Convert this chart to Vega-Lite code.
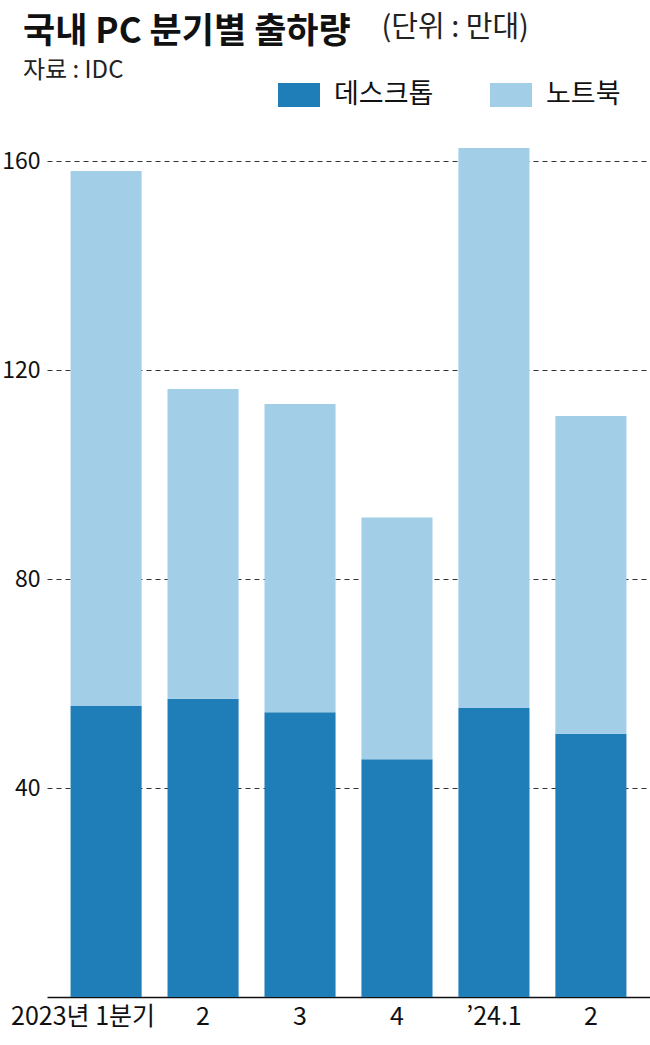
{
  "$schema": "https://vega.github.io/schema/vega-lite/v6.json",
  "autosize": {"type": "none"},
  "width": 603,
  "height": 862,
  "padding": {"left": 47, "top": 135, "right": 0, "bottom": 48},
  "background": "white",
  "config": {
    "font": "Noto Sans CJK KR",
    "view": {"stroke": null}
  },
  "title": {
    "text": "국내 PC 분기별 출하량",
    "subtitle": "자료 : IDC",
    "anchor": "start",
    "frame": "group",
    "orient": "top",
    "dx": -24,
    "offset": -70,
    "font": "Noto Sans CJK KR",
    "fontSize": 35,
    "fontWeight": "bold",
    "color": "#111111",
    "subtitleFont": "Noto Sans CJK KR",
    "subtitleFontSize": 24,
    "subtitleColor": "#222222",
    "subtitlePadding": 9
  },
  "data": {
    "values": [
      {"분기": "2023년 1분기", "구분": "데스크톱", "출하량": 55.7, "순서": 1},
      {"분기": "2023년 1분기", "구분": "노트북", "출하량": 102.4, "순서": 2},
      {"분기": "2", "구분": "데스크톱", "출하량": 57.1, "순서": 1},
      {"분기": "2", "구분": "노트북", "출하량": 59.3, "순서": 2},
      {"분기": "3", "구분": "데스크톱", "출하량": 54.5, "순서": 1},
      {"분기": "3", "구분": "노트북", "출하량": 59.0, "순서": 2},
      {"분기": "4", "구분": "데스크톱", "출하량": 45.5, "순서": 1},
      {"분기": "4", "구분": "노트북", "출하량": 46.3, "순서": 2},
      {"분기": "’24.1", "구분": "데스크톱", "출하량": 55.3, "순서": 1},
      {"분기": "’24.1", "구분": "노트북", "출하량": 107.2, "순서": 2},
      {"분기": "2 ", "구분": "데스크톱", "출하량": 50.4, "순서": 1},
      {"분기": "2 ", "구분": "노트북", "출하량": 60.8, "순서": 2}
    ]
  },
  "mark": {"type": "bar"},
  "encoding": {
    "x": {
      "field": "분기",
      "type": "nominal",
      "sort": null,
      "scale": {"paddingInner": 0.267, "paddingOuter": 0.243},
      "axis": {
        "title": null,
        "labelAngle": 0,
        "labelFont": "Noto Sans CJK KR",
        "labelFontSize": 25,
        "labelColor": "#111111",
        "labelPadding": 7,
        "labelOffset": {"condition": {"test": "datum.value == '2023년 1분기'", "value": -23}, "value": 0},
        "ticks": false,
        "domain": true,
        "domainColor": "#111111",
        "domainWidth": 1.5,
        "grid": false
      }
    },
    "y": {
      "field": "출하량",
      "type": "quantitative",
      "stack": "zero",
      "scale": {"domain": [0, 165], "nice": false, "zero": true},
      "axis": {
        "title": "(단위 : 만대)",
        "titleAngle": 0,
        "titleX": 334,
        "titleY": -99,
        "titleAlign": "left",
        "titleBaseline": "alphabetic",
        "titleFont": "Noto Sans CJK KR",
        "titleFontSize": 29,
        "titleFontWeight": "normal",
        "titleColor": "#222222",
        "values": [40, 80, 120, 160],
        "domain": false,
        "ticks": false,
        "grid": true,
        "gridDash": [5, 4],
        "gridColor": "#333333",
        "gridWidth": 1,
        "labelFont": "Noto Sans CJK KR",
        "labelFontSize": 23,
        "labelColor": "#111111",
        "labelPadding": 7
      }
    },
    "color": {
      "field": "구분",
      "type": "nominal",
      "sort": ["데스크톱", "노트북"],
      "scale": {"domain": ["데스크톱", "노트북"], "range": ["#1f7eb8", "#a3cee8"]},
      "legend": {
        "title": null,
        "orient": "none",
        "direction": "horizontal",
        "legendX": 231,
        "legendY": -61,
        "symbolType": "M-1,-0.57H1V0.57H-1Z",
        "symbolSize": 1764,
        "symbolStrokeWidth": 0,
        "symbolOpacity": 1,
        "labelFont": "Noto Sans CJK KR",
        "labelFontSize": 27,
        "labelColor": "#111111",
        "labelOffset": 14,
        "columnPadding": 56
      }
    },
    "order": {"field": "순서", "type": "quantitative"}
  }
}
